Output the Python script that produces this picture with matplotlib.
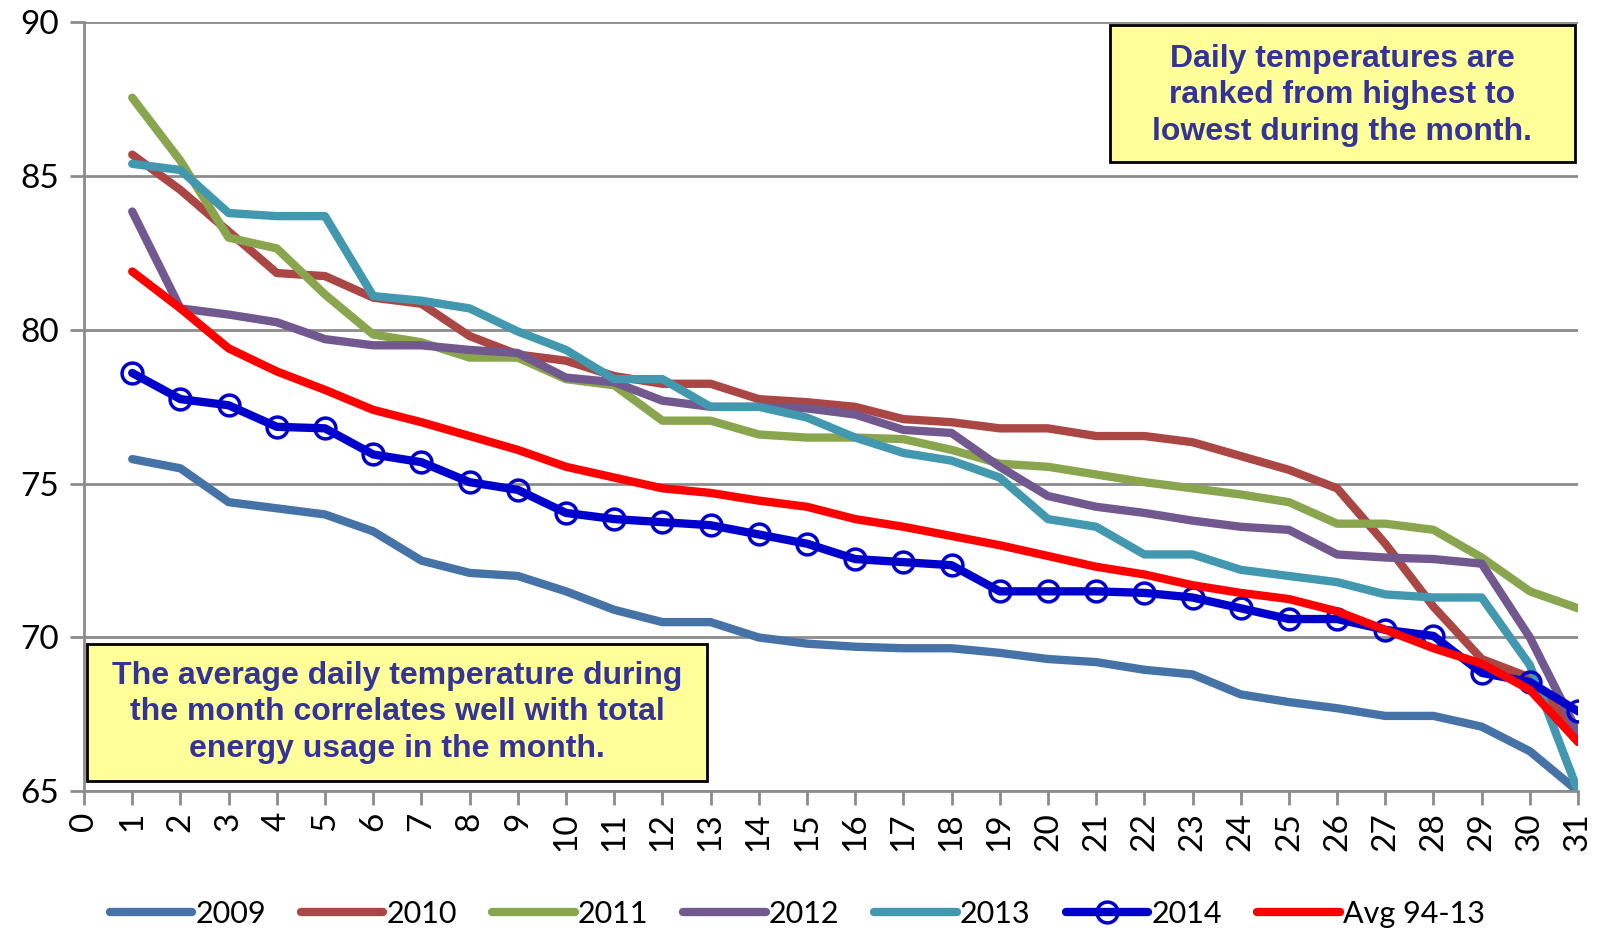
import numpy as np
import matplotlib
matplotlib.use("Agg")
import matplotlib.pyplot as plt
from matplotlib.patches import Rectangle

days = np.arange(1, 32)

t2009 = [75.8, 75.5, 74.4, 74.2, 74.0, 73.45, 72.5, 72.1, 72.0, 71.5, 70.9, 70.5, 70.5, 70.0, 69.8,
         69.7, 69.65, 69.65, 69.5, 69.3, 69.2, 68.95, 68.8, 68.15, 67.9, 67.7, 67.45, 67.45, 67.1, 66.3, 65.0]
t2010 = [85.7, 84.55, 83.2, 81.85, 81.75, 81.05, 80.85, 79.8, 79.2, 79.0, 78.5, 78.25, 78.25, 77.75, 77.65,
         77.5, 77.1, 77.0, 76.8, 76.8, 76.55, 76.55, 76.35, 75.9, 75.45, 74.85, 73.05, 71.0, 69.3, 68.7, 66.9]
t2011 = [87.55, 85.5, 83.0, 82.65, 81.15, 79.85, 79.6, 79.1, 79.1, 78.4, 78.2, 77.05, 77.05, 76.6, 76.5,
         76.5, 76.45, 76.1, 75.65, 75.55, 75.3, 75.05, 74.85, 74.65, 74.4, 73.7, 73.7, 73.5, 72.6, 71.5, 70.95]
t2012 = [83.85, 80.7, 80.5, 80.25, 79.7, 79.5, 79.5, 79.35, 79.25, 78.45, 78.3, 77.7, 77.5, 77.5, 77.45,
         77.25, 76.75, 76.65, 75.55, 74.6, 74.25, 74.05, 73.8, 73.6, 73.5, 72.7, 72.6, 72.55, 72.4, 70.0, 66.9]
t2013 = [85.4, 85.2, 83.8, 83.7, 83.7, 81.1, 80.95, 80.7, 79.95, 79.35, 78.4, 78.4, 77.5, 77.5, 77.15,
         76.5, 76.0, 75.75, 75.2, 73.85, 73.6, 72.7, 72.7, 72.2, 72.0, 71.8, 71.4, 71.3, 71.3, 69.1, 65.0]
t2014 = [78.6, 77.75, 77.55, 76.85, 76.8, 75.95, 75.7, 75.05, 74.8, 74.05, 73.85, 73.75, 73.65, 73.35, 73.05,
         72.55, 72.45, 72.35, 71.5, 71.5, 71.5, 71.45, 71.3, 70.95, 70.6, 70.6, 70.25, 70.05, 68.85, 68.55, 67.6]
avg = [81.9, 80.7, 79.4, 78.65, 78.05, 77.4, 77.0, 76.55, 76.1, 75.55, 75.2, 74.85, 74.7, 74.45, 74.25,
       73.85, 73.6, 73.3, 73.0, 72.65, 72.3, 72.05, 71.7, 71.45, 71.25, 70.85, 70.25, 69.65, 69.15, 68.3, 66.6]

fig = plt.figure(figsize=(16.07, 9.32), dpi=100)
ax = fig.add_axes([0.0523, 0.151, 0.9297, 0.825])

grey = "#8c8c8c"
ax.plot(days, t2009, color="#4572A7", lw=6, label="2009", solid_capstyle="round")
ax.plot(days, t2010, color="#AA4643", lw=6, label="2010", solid_capstyle="round")
ax.plot(days, t2011, color="#89A54E", lw=6, label="2011", solid_capstyle="round")
ax.plot(days, t2012, color="#71588F", lw=6, label="2012", solid_capstyle="round")
ax.plot(days, t2013, color="#4198AF", lw=6, label="2013", solid_capstyle="round")
ax.plot(days, t2014, color="#0000CC", lw=6, marker="o", ms=15, mfc="none", mec="#0000CC", mew=2.5,
        label="2014", solid_capstyle="round")
ax.plot(days, avg, color="#FF0000", lw=6, label="Avg 94-13", solid_capstyle="round")

ax.set_xlim(0, 31)
ax.set_ylim(65, 90)
ax.set_xticks(range(0, 32))
ax.set_yticks(range(65, 91, 5))
ax.yaxis.grid(True, color=grey, lw=2)
ax.set_axisbelow(True)
for s in ["top", "right"]:
    ax.spines[s].set_visible(False)
ax.spines["left"].set_color(grey)
ax.spines["left"].set_linewidth(2)
ax.spines["bottom"].set_color(grey)
ax.spines["bottom"].set_linewidth(2)
ax.tick_params(axis="both", colors=grey, width=2, length=10, direction="out")
ax.tick_params(axis="x", labelcolor="black", labelsize=24, labelrotation=90, pad=5)
ax.tick_params(axis="y", labelcolor="black", labelsize=24, pad=8)
for lab in ax.get_xticklabels() + ax.get_yticklabels():
    lab.set_fontfamily("Lato")

# note boxes
ax.add_patch(Rectangle((0.6866, 0.8187), 0.3114, 0.1773, transform=ax.transAxes,
                       fc="#FFFF99", ec="black", lw=2, zorder=5))
ax.text(0.842, 0.905, "Daily temperatures are\nranked from highest to\nlowest during the month.",
        transform=ax.transAxes, ha="center", va="center", fontsize=23, fontweight="bold",
        color="#333399", family="Liberation Sans", linespacing=1.28, zorder=6)
ax.add_patch(Rectangle((0.002, 0.0133), 0.415, 0.1787, transform=ax.transAxes,
                       fc="#FFFF99", ec="black", lw=2, zorder=5))
ax.text(0.2095, 0.1027, "The average daily temperature during\nthe month correlates well with total\nenergy usage in the month.",
        transform=ax.transAxes, ha="center", va="center", fontsize=23, fontweight="bold",
        color="#333399", family="Liberation Sans", linespacing=1.28, zorder=6)

fig.legend(loc="lower center", ncol=7, frameon=False, handlelength=2.7,
           handletextpad=0.1, columnspacing=1.15, bbox_to_anchor=(0.496, -0.015),
           borderaxespad=0.2, prop={"family": "Lato", "size": 22})

fig.savefig("out.png", dpi=100)
